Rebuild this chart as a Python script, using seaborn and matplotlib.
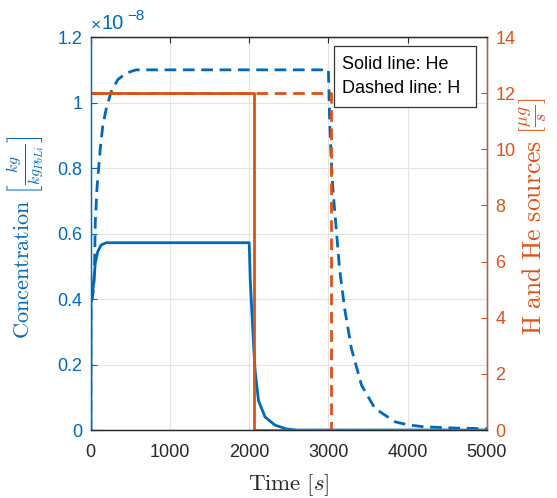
import matplotlib
matplotlib.use("Agg")
import matplotlib.pyplot as plt
from matplotlib.patches import Rectangle
import seaborn as sns
import pandas as pd

# ---- data (concentration in units of 1e-8 kg/kg_PbLi, sources in ug/s) ----
he_t = [0, 2, 15, 36, 57, 88, 130, 194, 300, 500, 1000, 1500, 2000, 2013, 2055,
        2075, 2117, 2200, 2325, 2475, 2600, 3000, 4000, 5000]
he_c = [0, 0.39, 0.40, 0.45, 0.51, 0.545, 0.565, 0.572, 0.572, 0.572, 0.572, 0.572,
        0.572, 0.46, 0.26, 0.18, 0.09, 0.04, 0.015, 0.003, 0.0, 0.0, 0.0, 0.0]

h_t = [0, 2, 15, 36, 46, 57, 78, 99, 120, 152, 194, 257, 341, 446, 572, 800, 1000,
       2000, 3000, 3015, 3035, 3056, 3098, 3140, 3204, 3290, 3418, 3587, 3842,
       4000, 4200, 4600, 5000]
h_c = [0, 0.39, 0.40, 0.43, 0.483, 0.636, 0.738, 0.80, 0.86, 0.93, 0.98, 1.033,
       1.07, 1.09, 1.1, 1.1, 1.1, 1.1, 1.1, 0.95, 0.83, 0.738, 0.616, 0.494, 0.372,
       0.249, 0.137, 0.066, 0.025, 0.016, 0.01, 0.006, 0.004]

src_he_t = [0, 2055, 2055, 5000]
src_he_v = [12, 12, 0, 0]
src_h_t = [0, 3035, 3035, 5000]
src_h_v = [12, 12, 0, 0]

x_ticks = [0, 1000, 2000, 3000, 4000, 5000]
yl_ticks = [0, 0.2, 0.4, 0.6, 0.8, 1.0, 1.2]
yl_labels = ["0", "0.2", "0.4", "0.6", "0.8", "1", "1.2"]
yr_ticks = [0, 2, 4, 6, 8, 10, 12, 14]

BLUE = "#0068B8"
ORANGE = "#D95319"
DARK = "#262626"

sns.set_style("white")
plt.rcParams["font.family"] = ["Liberation Sans", "DejaVu Sans"]
plt.rcParams["mathtext.fontset"] = "cm"

fig = plt.figure(figsize=(5.57, 4.98), dpi=100)
ax = fig.add_axes([0.163, 0.1365, 0.711, 0.789])
ax2 = ax.twinx()

df_he = pd.DataFrame({"t": he_t, "c": he_c})
df_h = pd.DataFrame({"t": h_t, "c": h_c})
df_she = pd.DataFrame({"t": src_he_t, "v": src_he_v})
df_sh = pd.DataFrame({"t": src_h_t, "v": src_h_v})

lw = 2.0
dash = (0, (4.2, 2.4))
sns.lineplot(data=df_he, x="t", y="c", ax=ax, color=BLUE, lw=lw, sort=False,
             estimator=None)
sns.lineplot(data=df_h, x="t", y="c", ax=ax, color=BLUE, lw=lw, sort=False,
             estimator=None, linestyle=dash)
sns.lineplot(data=df_she, x="t", y="v", ax=ax2, color=ORANGE, lw=lw, sort=False,
             estimator=None)
sns.lineplot(data=df_sh, x="t", y="v", ax=ax2, color=ORANGE, lw=lw, sort=False,
             estimator=None, linestyle=dash)

ax.set_xlim(0, 5000)
ax.set_ylim(0, 1.2)
ax2.set_ylim(0, 14)
ax.set_xticks(x_ticks)
ax.set_xticklabels([str(v) for v in x_ticks])
ax.set_yticks(yl_ticks)
ax.set_yticklabels(yl_labels)
ax2.set_yticks(yr_ticks)
ax2.set_yticklabels([str(v) for v in yr_ticks])

ax.grid(True, color="#E3E3E3", lw=0.8)
ax.set_axisbelow(True)

ax.tick_params(axis="x", colors=DARK, labelsize=13, direction="in",
               length=4, top=True, pad=10)
ax.tick_params(axis="y", colors=BLUE, labelsize=13, direction="in", length=4, pad=6)
ax2.tick_params(axis="y", colors=ORANGE, labelsize=13, direction="in", length=4, pad=6)

for a in (ax, ax2):
    for s in a.spines.values():
        s.set_linewidth(0.9)
    a.spines["top"].set_color(DARK)
    a.spines["bottom"].set_color(DARK)
    a.spines["left"].set_color(BLUE)
ax2.spines["right"].set_color(ORANGE)

ax.set_xlabel(r"$\mathrm{Time}\ [s]$", fontsize=16.5, color=DARK, labelpad=8)
ax.set_ylabel(r"$\mathrm{Concentration}\ \left[\frac{kg}{kg_{PbLi}}\right]$",
              fontsize=16, color=BLUE)
ax.yaxis.set_label_coords(-0.112, 0.49)
ax2.set_ylabel(r"$\mathrm{H\ and\ He\ sources}\ \left[\frac{\mu g}{s}\right]$",
               fontsize=18.5, color=ORANGE)
ax2.yaxis.set_label_coords(1.078, 0.545)

# exponent label
ax.annotate("×", xy=(0, 1), xycoords="axes fraction", xytext=(0, 4),
            textcoords="offset pixels", fontsize=12.5, color=BLUE,
            ha="left", va="bottom")
ax.annotate("10", xy=(0, 1), xycoords="axes fraction", xytext=(11, 4),
            textcoords="offset pixels", fontsize=14.5, color=BLUE,
            ha="left", va="bottom")
ax.annotate("−8", xy=(0, 1), xycoords="axes fraction", xytext=(36, 14),
            textcoords="offset pixels", fontsize=11, color=BLUE,
            ha="left", va="bottom")

# annotation box
ax2.add_patch(Rectangle((0.614, 0.822), 0.3585, 0.155, transform=ax.transAxes,
                        facecolor="white", edgecolor="#333333", lw=0.9,
                        zorder=20, clip_on=False))
ax2.text(0.634, 0.931, "Solid line: He", transform=ax.transAxes, fontsize=13,
         color="black", ha="left", va="center", zorder=21)
ax2.text(0.634, 0.870, "Dashed line: H", transform=ax.transAxes, fontsize=13,
         color="black", ha="left", va="center", zorder=21)

fig.savefig("out.png", dpi=100)
